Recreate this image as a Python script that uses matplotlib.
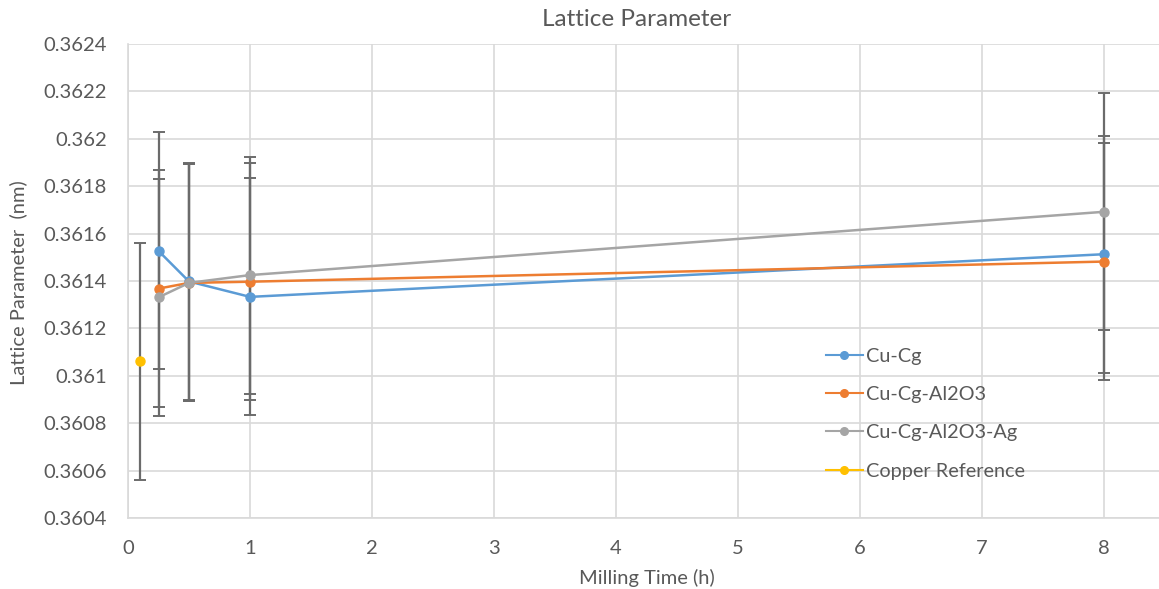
import matplotlib.pyplot as plt
from matplotlib.ticker import FuncFormatter, MultipleLocator

plt.rcParams['font.family'] = ['Lato', 'DejaVu Sans']

# milling time (h)
time_h = [0.25, 0.5, 1, 8]
cu_cg = [0.361527, 0.361398, 0.361333, 0.361513]
cu_cg_al2o3 = [0.361368, 0.361392, 0.361397, 0.361482]
cu_cg_al2o3_ag = [0.361331, 0.361392, 0.361425, 0.361692]
ref_time = [0.1]
copper_ref = [0.361061]
err = 0.0005

series = [
    ('Cu-Cg', time_h, cu_cg, '#5B9BD5'),
    ('Cu-Cg-Al2O3', time_h, cu_cg_al2o3, '#ED7D31'),
    ('Cu-Cg-Al2O3-Ag', time_h, cu_cg_al2o3_ag, '#A5A5A5'),
    ('Copper Reference', ref_time, copper_ref, '#FFC000'),
]

W, H = 1159, 589
fig = plt.figure(figsize=(W / 100, H / 100), dpi=100)
ax = fig.add_axes([128 / W, (H - 518) / H, (W - 128) / W, (518 - 44) / H])

txt = '#595959'
grid = '#D9D9D9'

for name, x, y, c in series:
    ax.errorbar(x, y, yerr=err, fmt='none', ecolor='#6b6b6b', elinewidth=1.6,
                capsize=4, capthick=1.4, zorder=2)
for name, x, y, c in series:
    ax.plot(x, y, color=c, lw=1.8, marker='o', ms=6.5, label=name, zorder=3)

ax.set_xlim(0, (W - 128) / 122)
ax.set_ylim(0.3604, 0.3624)
ax.xaxis.set_major_locator(MultipleLocator(1))
ax.yaxis.set_major_locator(MultipleLocator(0.0002))
ax.xaxis.set_major_formatter(FuncFormatter(lambda v, p: f'{v:.0f}' if v <= 8.01 else ''))
ax.yaxis.set_major_formatter(FuncFormatter(lambda v, p: f'{v:.4f}'.rstrip('0')))
ax.grid(True, color=grid, lw=1.2)
ax.set_axisbelow(True)
for s in ['top', 'right']:
    ax.spines[s].set_visible(False)
for s in ['left', 'bottom']:
    ax.spines[s].set_color(grid)
    ax.spines[s].set_linewidth(1.2)
ax.tick_params(length=0, colors=txt, labelsize=14.5)
ax.tick_params(axis='y', pad=15)
ax.tick_params(axis='x', pad=15.5)

fig.text(637 / W, 1 - 20 / H, 'Lattice Parameter', ha='center', va='center',
         color=txt, fontsize=17.5)
fig.text(18 / W, 1 - 283 / H, 'Lattice Parameter  (nm)', rotation=90,
         ha='center', va='center', color=txt, fontsize=14.5)
fig.text(647 / W, 1 - 578 / H, 'Milling Time (h)', ha='center', va='center',
         color=txt, fontsize=14.5)

leg = ax.legend(loc='upper left', bbox_to_anchor=((818 - 128) / (W - 128), (518 - 340) / (518 - 44)),
                frameon=False, fontsize=14.3, labelcolor=txt, handlelength=1.85,
                handletextpad=0.15, labelspacing=1.07, borderaxespad=0)
for h in leg.legend_handles:
    h.set_markersize(5.5)
    h.set_linewidth(1.5)

fig.savefig('out.png', dpi=100)
